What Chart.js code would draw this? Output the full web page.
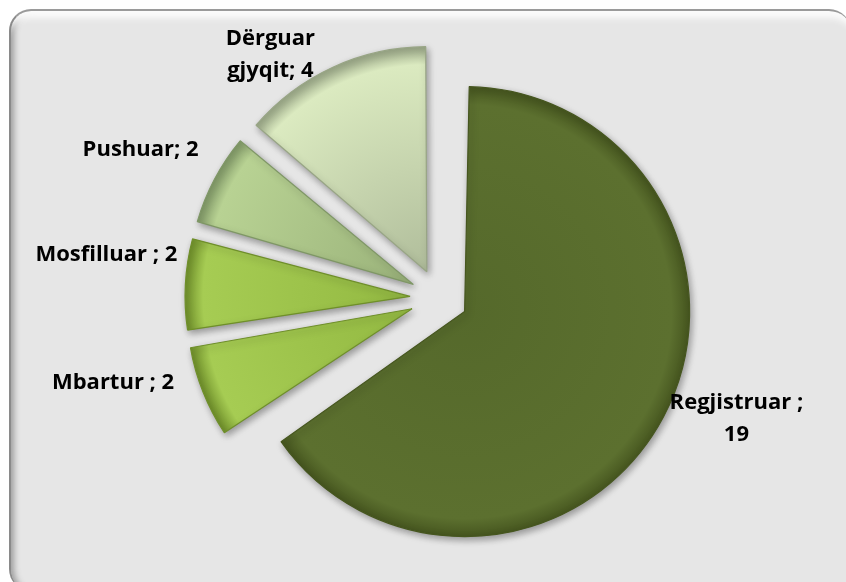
<!DOCTYPE html>
<html>
<head>
<meta charset="utf-8">
<title>Çështjet</title>
<script src="https://cdn.jsdelivr.net/npm/chart.js@4.4.1/dist/chart.umd.min.js"></script>
<style>
  html, body { margin: 0; padding: 0; background: #ffffff; overflow: hidden; }
  /* rounded grey panel behind the pie */
  #frame {
    position: absolute; left: 9px; top: 9px; width: 842px; height: 582px;
    box-sizing: border-box; border-radius: 22px; background: #e6e6e6;
    border-top: 2px solid #9a9a9a; border-left: 2px solid #8a8a8a;
    box-shadow: inset 0 14px 6px -7px #fbfbfb, inset 6px 0 6px -3px #9c9c9c;
  }
  #wrap { position: absolute; left: 0; top: 0; width: 846px; height: 582px; }
</style>
</head>
<body>
<div id="frame"></div>
<div id="wrap"><canvas id="pie" width="846" height="582"></canvas></div>
<script>
// ============================================
// DATA - categories and counts
// ============================================
const categories = ['Regjistruar ', 'Mbartur ', 'Mosfilluar ', 'Pushuar', 'Dërguar gjyqit'];
const counts = [19, 2, 2, 2, 4];

// ============================================
// LOOK - colours and sizes
// ============================================
const innerColors = ['#55692b', '#93b942', '#93b942', '#9ab27a', '#b0bd9b'];
const outerColors = ['#5c702f', '#a6cc53', '#a6cc53', '#b8d293', '#dbeac0'];
const edgeColors  = ['#46561f', '#6f8f2a', '#6f8f2a', '#7f9766', '#98a585'];

const PIE_RADIUS = 225;   // px, radius every slice should end up with
const EXPLODE = 29;       // px, how far each slice is pulled out
// label tweaks relative to the outer point of each slice (Excel "best fit" spots)
const labelNudge = [[73, 2], [-90, -9], [-79, -30], [-74, -29], [-62, -13]];
const labelWrap = [150, 220, 220, 220, 100];

// chart.js v4 arcs move by offset/4 and also grow by part of it,
// so give every arc back the same visible radius
const evenRadius = {
    id: 'evenRadius',
    afterDatasetsUpdate(chart) {
        chart.getDatasetMeta(0).data.forEach(arc => {
            const fix = 1 - Math.sin(Math.min(Math.PI, arc.circumference));
            arc.outerRadius = PIE_RADIUS - EXPLODE * fix;
        });
    }
};

// soft drop shadow under the slices + the outside labels
const shadowAndLabels = {
    id: 'shadowAndLabels',
    beforeDatasetsDraw(chart) {
        const ctx = chart.ctx;
        ctx.save();
        ctx.shadowColor = 'rgba(0, 0, 0, 0.35)';
        ctx.shadowBlur = 7;
        ctx.shadowOffsetX = 2;
        ctx.shadowOffsetY = 3;
    },
    afterDatasetsDraw(chart) {
        const ctx = chart.ctx;
        ctx.restore();

        ctx.save();
        ctx.font = 'bold 22px "Open Sans", sans-serif';
        ctx.fillStyle = '#000000';
        ctx.textAlign = 'center';
        ctx.textBaseline = 'middle';
        const lineH = 32;

        chart.getDatasetMeta(0).data.forEach((arc, i) => {
            const mid = (arc.startAngle + arc.endAngle) / 2;
            const dist = EXPLODE + PIE_RADIUS;
            const ax = arc.x + Math.cos(mid) * dist + labelNudge[i][0];
            const ay = arc.y + Math.sin(mid) * dist + labelNudge[i][1];

            // wrap "Category; value" the way Excel does
            const words = (categories[i] + '; ' + counts[i]).split(' ');
            const lines = [];
            let cur = '';
            words.forEach(w => {
                const test = cur ? cur + ' ' + w : w;
                if (cur && ctx.measureText(test).width > labelWrap[i]) {
                    lines.push(cur);
                    cur = w;
                } else {
                    cur = test;
                }
            });
            lines.push(cur);

            const top = ay - (lines.length - 1) * lineH / 2;
            lines.forEach((ln, k) => ctx.fillText(ln, ax, top + k * lineH));
        });
        ctx.restore();
    }
};

function sliceFill(context) {
    const i = context.dataIndex;
    const area = context.chart.chartArea;
    if (!area) return outerColors[i];
    const cx = (area.left + area.right) / 2;
    const cy = (area.top + area.bottom) / 2;
    const g = context.chart.ctx.createRadialGradient(cx, cy, 0, cx, cy, PIE_RADIUS);
    g.addColorStop(0, innerColors[i]);
    g.addColorStop(0.92, outerColors[i]);
    g.addColorStop(1, edgeColors[i]);
    return g;
}

new Chart(document.getElementById('pie'), {
    type: 'pie',
    data: {
        labels: categories,
        datasets: [{
            data: counts,
            backgroundColor: sliceFill,
            borderColor: edgeColors,
            borderWidth: 1.2,
            offset: EXPLODE * 4,
            hoverOffset: EXPLODE * 4
        }]
    },
    options: {
        responsive: false,
        animation: false,
        radius: PIE_RADIUS,
        layout: { padding: { left: 32, right: 0, top: 14, bottom: 0 } },
        plugins: {
            legend: { display: false },
            tooltip: { enabled: false }
        }
    },
    plugins: [evenRadius, shadowAndLabels]
});
</script>
</body>
</html>
